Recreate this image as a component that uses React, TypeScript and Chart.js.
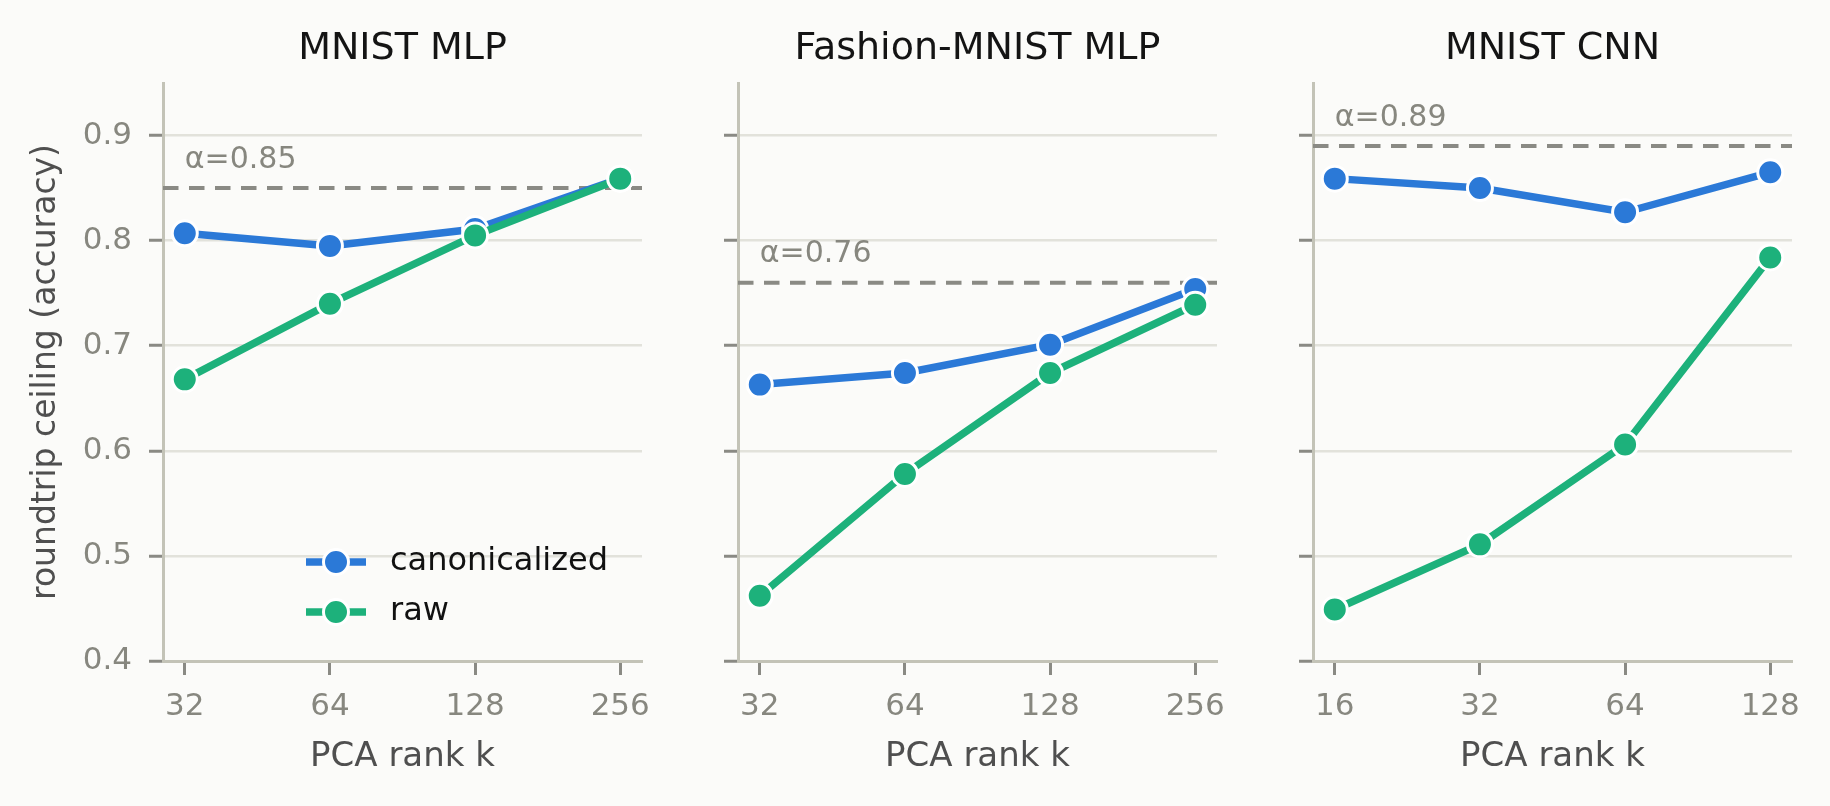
import React, { useEffect, useRef } from 'react';
import { Chart, registerables } from 'chart.js';

Chart.register(...registerables);
Chart.defaults.font.family = "'DejaVu Sans', 'Noto Sans', sans-serif";

const seriesNames = ['canonicalized', 'raw'];
const panelTitles = ['MNIST MLP', 'Fashion-MNIST MLP', 'MNIST CNN'];
const mlpRanks = [32, 64, 128, 256];
const cnnRanks = [16, 32, 64, 128];
const mnistMlpCanon = [0.807, 0.795, 0.811, 0.859];
const mnistMlpRaw = [0.668, 0.74, 0.805, 0.859];
const fashionMlpCanon = [0.663, 0.674, 0.701, 0.754];
const fashionMlpRaw = [0.462, 0.578, 0.674, 0.739];
const mnistCnnCanon = [0.859, 0.85, 0.827, 0.865];
const mnistCnnRaw = [0.449, 0.511, 0.606, 0.784];
const alphas = [0.85, 0.76, 0.89];
const yTicks = [0.4, 0.5, 0.6, 0.7, 0.8, 0.9];
const yRange = [0.4, 0.95];

const BLUE = '#2b79d7';
const GREEN = '#1db17b';
const BG = '#fbfbf9';
const GRID = '#e2e2db';
const SPINE = '#c3c3b7';
const TICK = '#8a8a84';
const TICK_TEXT = '#87877f';
const LABEL_TEXT = '#4f4f4f';
const HEIGHT = 806;

// dashed reference line with its α label, drawn under the series
const alphaLine = {
  id: 'alphaLine',
  beforeDatasetsDraw(chart: any, _args: any, opts: any) {
    const { ctx, chartArea, scales } = chart;
    const y = scales.y.getPixelForValue(opts.value);
    ctx.save();
    ctx.strokeStyle = TICK;
    ctx.lineWidth = 4;
    ctx.setLineDash([15.5, 10.5]);
    ctx.beginPath();
    ctx.moveTo(chartArea.left, y);
    ctx.lineTo(chartArea.right, y);
    ctx.stroke();
    ctx.setLineDash([]);
    ctx.fillStyle = TICK_TEXT;
    ctx.font = "30px 'DejaVu Sans'";
    ctx.textAlign = 'left';
    ctx.textBaseline = 'alphabetic';
    ctx.fillText('α=' + opts.value.toFixed(2), scales.x.getPixelForValue(opts.x), y - 20.5);
    ctx.restore();
  },
};

// matplotlib-like legend: line + marker, lower right of the first panel
const lineLegend = {
  id: 'lineLegend',
  afterDraw(chart: any, _args: any, opts: any) {
    if (!opts.show) return;
    const { ctx, chartArea } = chart;
    const x0 = chartArea.right - 336;
    chart.data.datasets.forEach((ds: any, i: number) => {
      const cy = chartArea.bottom - 99 + i * 50;
      ctx.save();
      ctx.strokeStyle = ds.borderColor;
      ctx.lineWidth = ds.borderWidth;
      ctx.beginPath();
      ctx.moveTo(x0, cy);
      ctx.lineTo(x0 + 60, cy);
      ctx.stroke();
      ctx.beginPath();
      ctx.arc(x0 + 30, cy, ds.pointRadius, 0, Math.PI * 2);
      ctx.fillStyle = ds.pointBackgroundColor;
      ctx.fill();
      ctx.strokeStyle = ds.pointBorderColor;
      ctx.lineWidth = ds.pointBorderWidth;
      ctx.stroke();
      ctx.fillStyle = '#111111';
      ctx.font = "32px 'DejaVu Sans'";
      ctx.textAlign = 'left';
      ctx.textBaseline = 'middle';
      ctx.fillText(ds.label, x0 + 84, cy);
      ctx.restore();
    });
  },
};

interface PanelProps {
  title: string;
  ranks: number[];
  canon: number[];
  raw: number[];
  alpha: number;
  left: number;
  width: number;
  yAxisWidth: number;
  first: boolean;
}

const Panel: React.FC<PanelProps> = ({ title, ranks, canon, raw, alpha, left, width, yAxisWidth, first }) => {
  const canvasRef = useRef<HTMLCanvasElement>(null);

  useEffect(() => {
    if (!canvasRef.current) return;

    const lo = ranks[0];
    const hi = ranks[ranks.length - 1];
    const margin = Math.pow(hi / lo, 0.05); // 5% axis margin on a log axis

    const series = (label: string, values: number[], color: string, order: number) => ({
      label,
      data: ranks.map((k, i) => ({ x: k, y: values[i] })),
      borderColor: color,
      backgroundColor: color,
      borderWidth: 7.5,
      pointRadius: 12.5,
      pointHoverRadius: 12.5,
      pointBackgroundColor: color,
      pointBorderColor: '#ffffff',
      pointBorderWidth: 3,
      tension: 0,
      clip: false as const,
      order,
    });

    const chart = new Chart(canvasRef.current, {
      type: 'line',
      data: {
        datasets: [
          series(seriesNames[0], canon, BLUE, 2),
          series(seriesNames[1], raw, GREEN, 1),
        ],
      },
      options: {
        animation: false,
        responsive: false,
        events: [],
        layout: { padding: { left: 0, right: 18, top: 0, bottom: 0 } },
        plugins: {
          legend: { display: false },
          tooltip: { enabled: false },
          title: {
            display: true,
            text: title,
            fullSize: false,
            color: '#141414',
            font: { size: 38, weight: 'normal', lineHeight: 1.2 },
            padding: { top: 26, bottom: 11.4 },
          },
          alphaLine: { value: alpha, x: lo },
          lineLegend: { show: first },
        } as any,
        scales: {
          x: {
            type: 'logarithmic',
            min: lo / margin,
            max: hi * margin,
            afterBuildTicks: (s: any) => {
              s.ticks = ranks.map((v) => ({ value: v }));
            },
            afterFit: (s: any) => {
              s.height = HEIGHT - 661;
              s.paddingLeft = 0;
              s.paddingRight = 0;
            },
            grid: {
              drawOnChartArea: false,
              drawTicks: true,
              tickLength: 14,
              tickColor: TICK,
              tickWidth: 3,
            },
            border: { display: true, color: SPINE, width: 3 },
            ticks: {
              autoSkip: false,
              maxRotation: 0,
              padding: 13,
              color: TICK_TEXT,
              font: { size: 31 },
              callback: (v: any) => String(v),
            },
            title: {
              display: true,
              text: 'PCA rank k',
              color: LABEL_TEXT,
              font: { size: 34, lineHeight: 1.2 },
              padding: { top: 0, bottom: 28 },
            },
          },
          y: {
            type: 'linear',
            min: yRange[0],
            max: yRange[1],
            afterBuildTicks: (s: any) => {
              s.ticks = yTicks.map((v) => ({ value: v }));
            },
            afterFit: (s: any) => {
              s.width = yAxisWidth;
              s.paddingTop = 0;
              s.paddingBottom = 0;
            },
            grid: {
              color: (c: any) => (c.tick && c.tick.value === yRange[0] ? 'rgba(0,0,0,0)' : GRID),
              lineWidth: 2.5,
              drawTicks: true,
              tickLength: 14,
              tickColor: TICK,
              tickWidth: 3,
            },
            border: { display: true, color: SPINE, width: 3 },
            ticks: {
              padding: 17,
              color: TICK_TEXT,
              font: { size: 31 },
              callback: (v: any) => (first ? Number(v).toFixed(1) : ''),
            },
            title: {
              display: first,
              text: 'roundtrip ceiling (accuracy)',
              color: LABEL_TEXT,
              font: { size: 33, lineHeight: 1.2 },
              padding: { top: 27, bottom: 0 },
            },
          },
        },
      } as any,
      plugins: [alphaLine, lineLegend],
    });

    return () => {
      chart.destroy();
    };
  }, [title, ranks, canon, raw, alpha, width, yAxisWidth, first]);

  return (
    <canvas
      ref={canvasRef}
      width={width}
      height={HEIGHT}
      style={{ position: 'absolute', left, top: 0, width, height: HEIGHT }}
    />
  );
};

export default function App() {
  useEffect(() => {
    document.body.style.margin = '0';
    document.body.style.background = BG;
  }, []);

  return (
    <div style={{ position: 'relative', width: 1830, height: HEIGHT, background: BG, overflow: 'hidden' }}>
      <Panel title={panelTitles[0]} ranks={mlpRanks} canon={mnistMlpCanon} raw={mnistMlpRaw}
        alpha={alphas[0]} left={0} width={660} yAxisWidth={163} first={true} />
      <Panel title={panelTitles[1]} ranks={mlpRanks} canon={fashionMlpCanon} raw={fashionMlpRaw}
        alpha={alphas[1]} left={660} width={575} yAxisWidth={78} first={false} />
      <Panel title={panelTitles[2]} ranks={cnnRanks} canon={mnistCnnCanon} raw={mnistCnnRaw}
        alpha={alphas[2]} left={1235} width={575} yAxisWidth={78} first={false} />
    </div>
  );
}
